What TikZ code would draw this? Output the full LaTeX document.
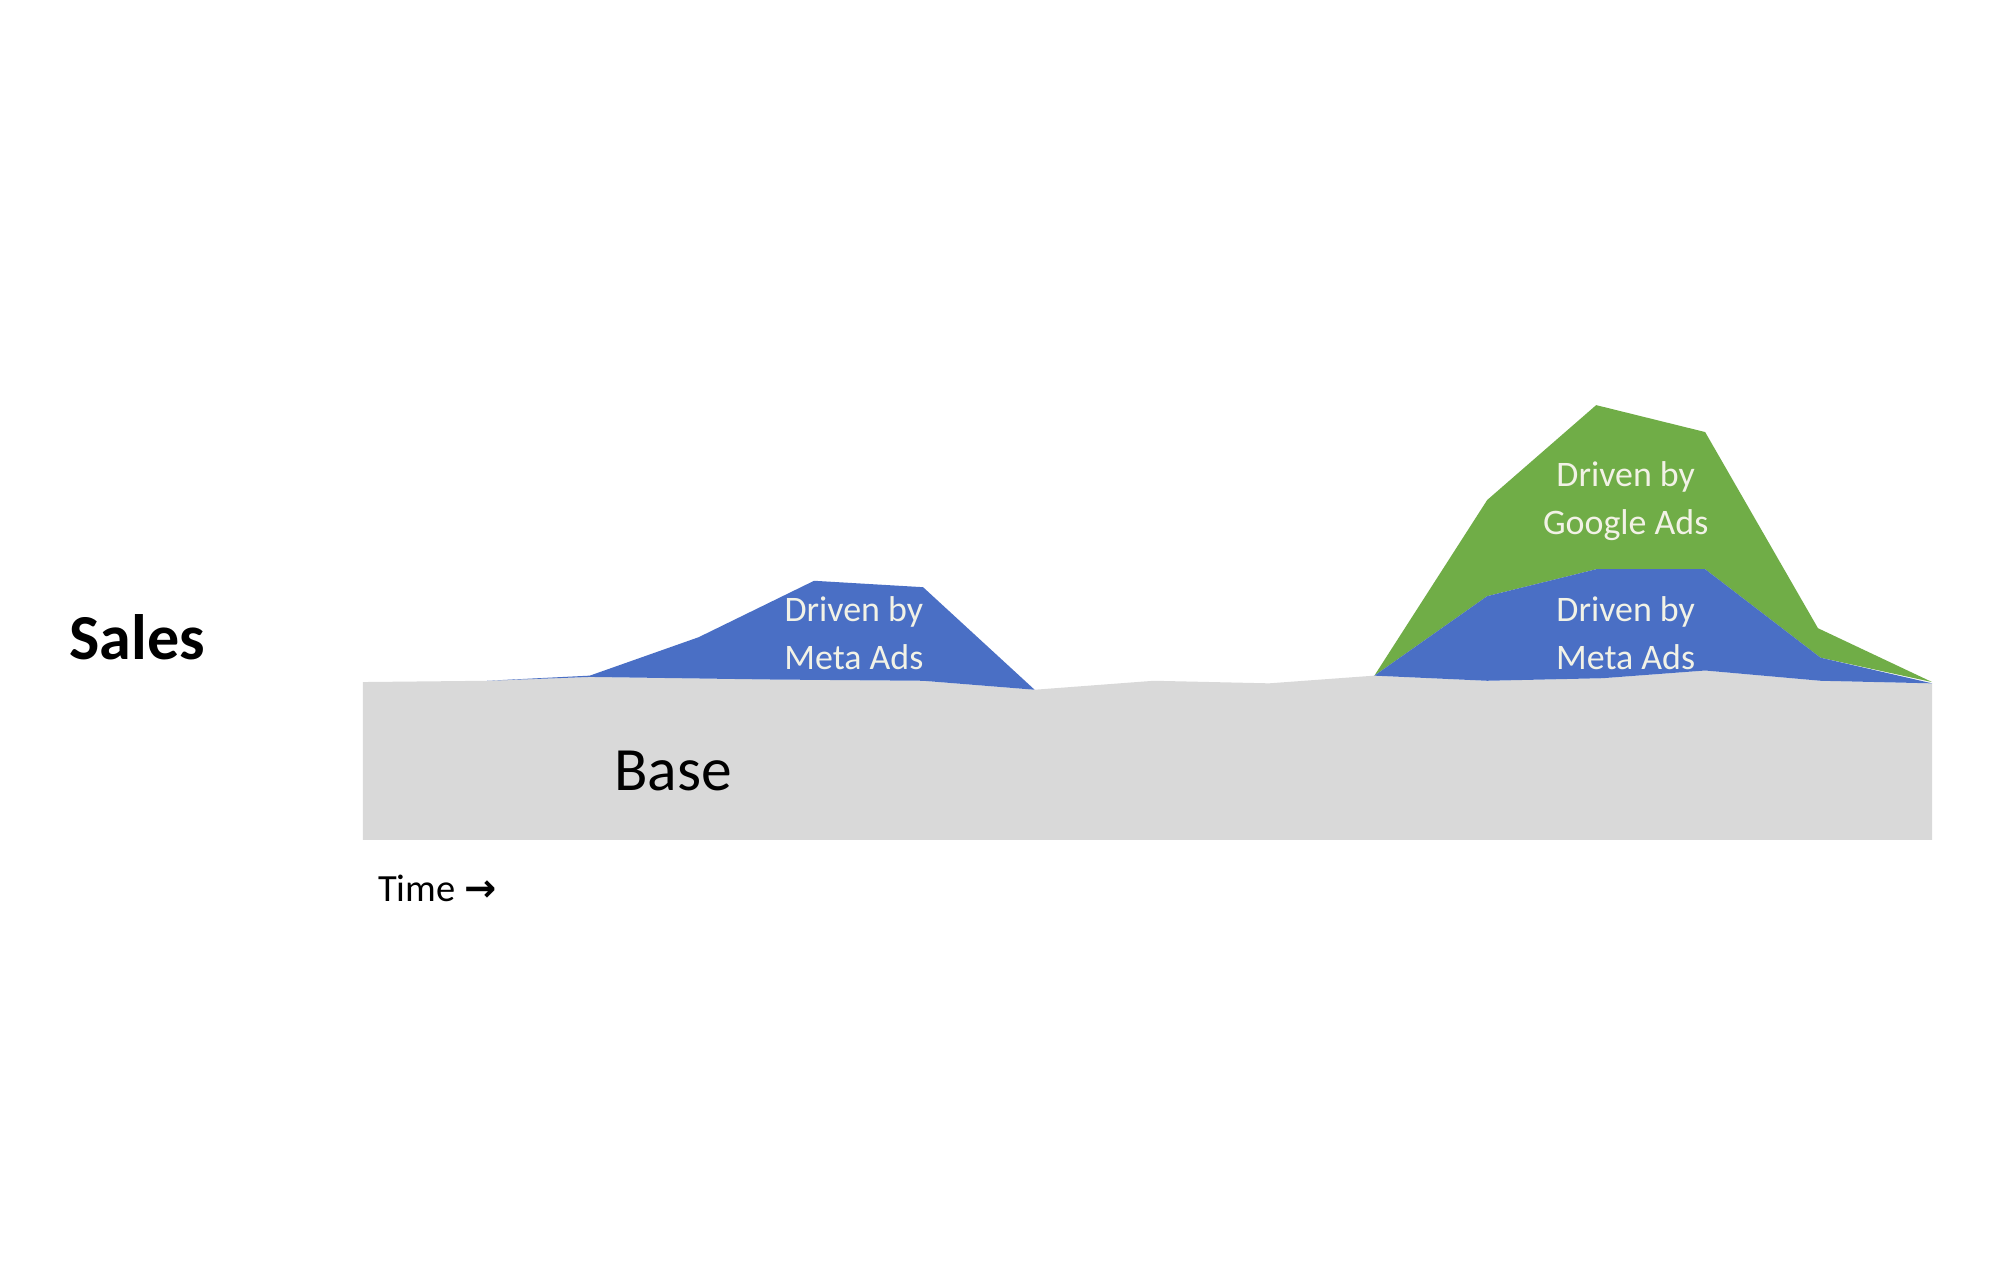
\documentclass[tikz,border=0pt]{standalone}
\usepackage{fontspec}
\setmainfont{Carlito}
\newfontfamily\arrowfont{DejaVu Sans}
\definecolor{basegray}{HTML}{D9D9D9}
\definecolor{metablue}{HTML}{4A6FC5}
\definecolor{googgreen}{HTML}{70AD47}
\definecolor{lbl}{HTML}{F2F2E6}
\begin{document}
\begin{tikzpicture}[x=1pt,y=-1pt,
  lab/.style={text=lbl,font=\fontsize{28}{37}\selectfont,align=center,inner sep=0}]
\useasboundingbox[fill=white] (0,0) rectangle (1560,987);
% base
\fill[basegray] (283,655) -- (283,532) -- (380,531) -- (460,528) -- (600,530) -- (720,531) -- (807,538) -- (900,531) -- (990,533) -- (1072,527) -- (1160,531) -- (1250,529) -- (1330,523) -- (1420,531) -- (1507,533) -- (1507,655) -- cycle;
% left blue
\fill[metablue] (380,531) -- (460,527) -- (545,497) -- (635,453) -- (720,458) -- (807,538) -- (720,531) -- (600,530) -- (460,528) -- cycle;
% green
\fill[googgreen] (1072,527) -- (1160,390) -- (1245,316) -- (1330,337) -- (1418,490) -- (1507,532) -- (1420,513) -- (1330,444) -- (1245,444) -- (1160,465) -- cycle;
% right blue
\fill[metablue] (1072,527) -- (1160,465) -- (1245,444) -- (1330,444) -- (1420,513) -- (1507,533) -- (1420,531) -- (1330,523) -- (1250,529) -- (1160,531) -- cycle;
\node[lab] (m1) at (666,494) {Driven by\\Meta Ads};
\node[lab] (m2) at (1268,494) {Driven by\\Meta Ads};
\node[lab] (g1) at (1268,391) {Driven by\\Google Ads};
\node[font=\bfseries\fontsize{50}{54}\selectfont] (sales) at (107,497) {Sales};
\node[font=\fontsize{48}{52}\selectfont] (base) at (525,601) {Base};
\node[font=\fontsize{30}{34}\selectfont] (time) at (341,693) {Time {\arrowfont\bfseries\fontsize{30}{34}\selectfont →}};
\end{tikzpicture}
\end{document}
